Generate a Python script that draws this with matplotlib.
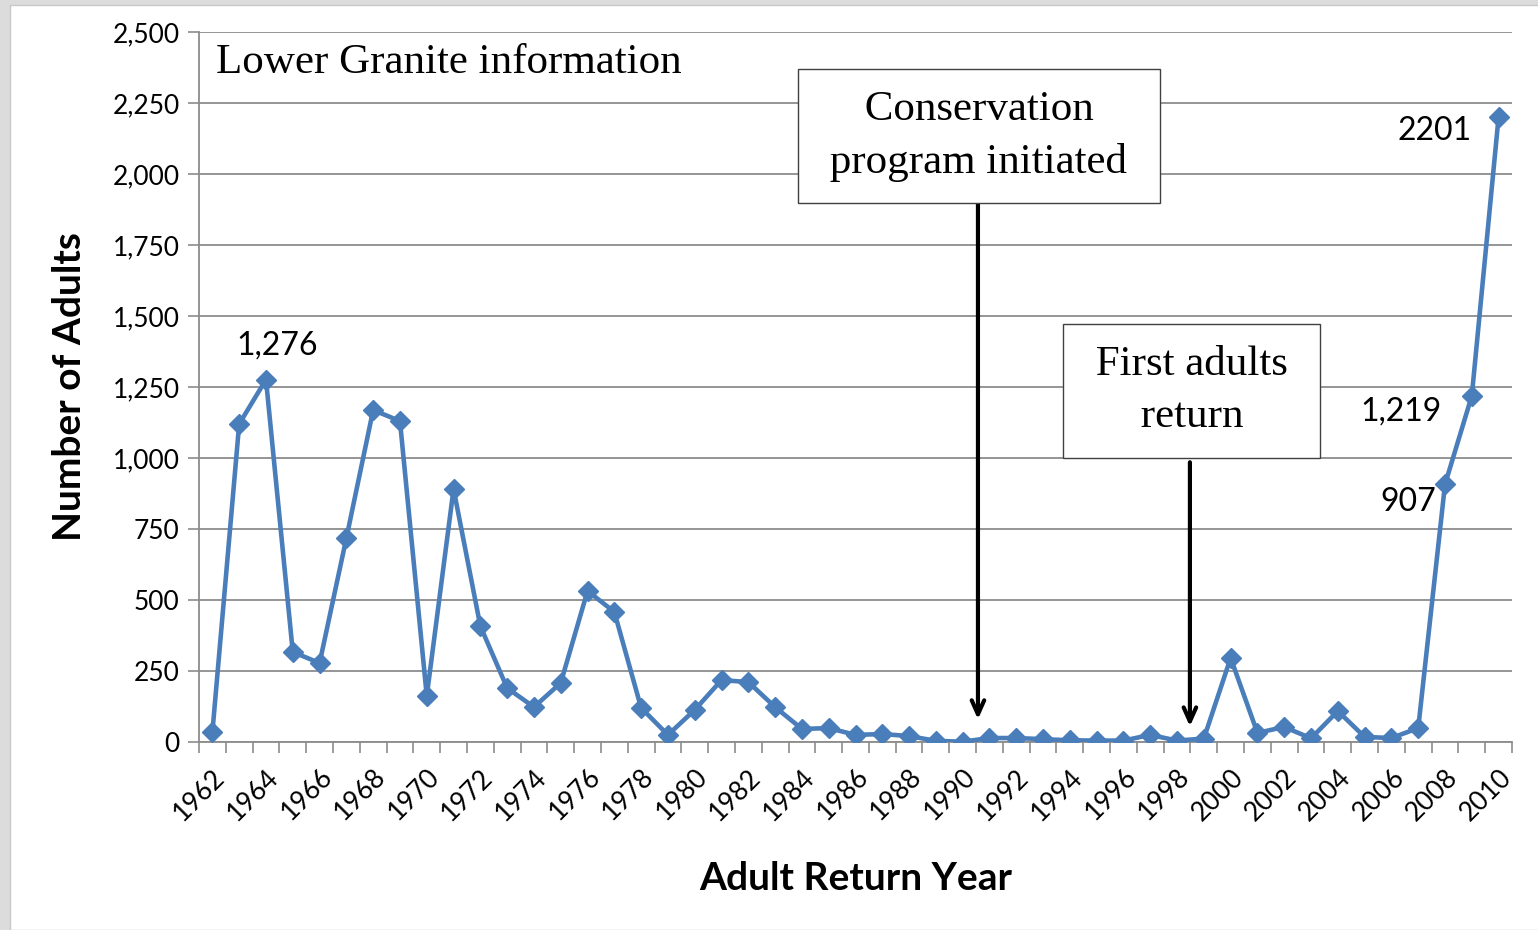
import numpy as np
import matplotlib.pyplot as plt
from matplotlib.patches import Rectangle

years = list(range(1962, 2011))
adults = [35, 1120, 1276, 317, 278, 718, 1169, 1130, 162, 891,
          408, 190, 123, 208, 532, 458, 120, 25, 113, 218,
          211, 123, 46, 49, 25, 28, 21, 4, 1, 14,
          14, 10, 6, 5, 5, 25, 5, 12, 296, 32,
          53, 13, 109, 18, 14, 49, 907, 1219, 2201]
tick_years = years[::2]
callouts = {1964: "1,276", 2008: "907", 2009: "1,219", 2010: "2201"}

line_color = "#4a7ebb"
sans = ["Lato", "DejaVu Sans"]
serif = ["Liberation Serif", "DejaVu Serif"]

fig = plt.figure(figsize=(15.38, 9.30), dpi=100)
fig.patch.set_facecolor("#dcdcdc")
fig.patches.append(Rectangle((10 / 1538, 0), 1, 1 - 5 / 930, transform=fig.transFigure,
                             facecolor="white", edgecolor="#c8c8c8", zorder=-10))
ax = fig.add_axes([199 / 1538, 1 - 742 / 930, (1512 - 199) / 1538, (742 - 32) / 930])
ax.set_facecolor("none")

x = np.arange(len(years))
ax.plot(x, adults, color=line_color, lw=3.3, marker="D", ms=10.5, zorder=3)

ax.set_xlim(-0.5, len(years) - 0.5)
ax.set_ylim(0, 2500)
ax.set_yticks(np.arange(0, 2501, 250))
ax.set_yticklabels([f"{v:,}" for v in range(0, 2501, 250)], family=sans, fontsize=19)
ax.yaxis.grid(True, color="#8c8c8c", lw=1.3)
ax.tick_params(axis="y", length=8, width=1.2, color="#8c8c8c", pad=6)

pos = [years.index(y) for y in tick_years]
ax.set_xticks(pos)
ax.set_xticklabels([str(y) for y in tick_years], rotation=45, ha="right",
                   rotation_mode="anchor", family=sans, fontsize=19)
ax.tick_params(axis="x", which="major", length=0, pad=16)
ax.set_xticks(np.arange(-0.5, len(years), 1), minor=True)
ax.tick_params(axis="x", which="minor", length=8, width=1.2, color="#8c8c8c")

for side in ["top", "right"]:
    ax.spines[side].set_visible(False)
for side in ["left", "bottom"]:
    ax.spines[side].set_color("#8c8c8c")
    ax.spines[side].set_linewidth(1.3)

ax.set_ylabel("Number of Adults", family=sans, fontsize=28, fontweight="bold", labelpad=18)
ax.set_xlabel("Adult Return Year", family=sans, fontsize=28, fontweight="bold", labelpad=26)

# value call-outs, offset from their points
offsets = {1964: (0.41, 121), 2008: (-1.39, -62), 2009: (-2.65, -57), 2010: (-2.38, -50)}
for yr, txt in callouts.items():
    i = years.index(yr)
    dx, dy = offsets[yr]
    ax.text(i + dx, adults[i] + dy, txt, family=sans, fontsize=23,
            ha="center", va="center")

ax.text(0.013, 0.956, "Lower Granite information", transform=ax.transAxes,
        family=serif, fontsize=31, ha="left", va="center")

box = dict(boxstyle="square,pad=0.5", facecolor="white", edgecolor="#404040", lw=1)
arrow = dict(arrowstyle="->,head_length=1.0,head_width=0.45", lw=3, color="black",
             shrinkA=0, shrinkB=0)
ax.text(28.6, 2133, " Conservation \n program initiated ", family=serif, fontsize=31,
        ha="center", va="center", linespacing=1.45, bbox=box, zorder=5)
ax.annotate("", xy=(28.57, 80), xytext=(28.57, 1901), arrowprops=arrow)
ax.text(36.55, 1236, " First adults \n return ", family=serif, fontsize=31,
        ha="center", va="center", linespacing=1.45, bbox=box, zorder=5)
ax.annotate("", xy=(36.48, 55), xytext=(36.48, 985), arrowprops=arrow)

fig.savefig("out.png", dpi=100, facecolor=fig.get_facecolor())
